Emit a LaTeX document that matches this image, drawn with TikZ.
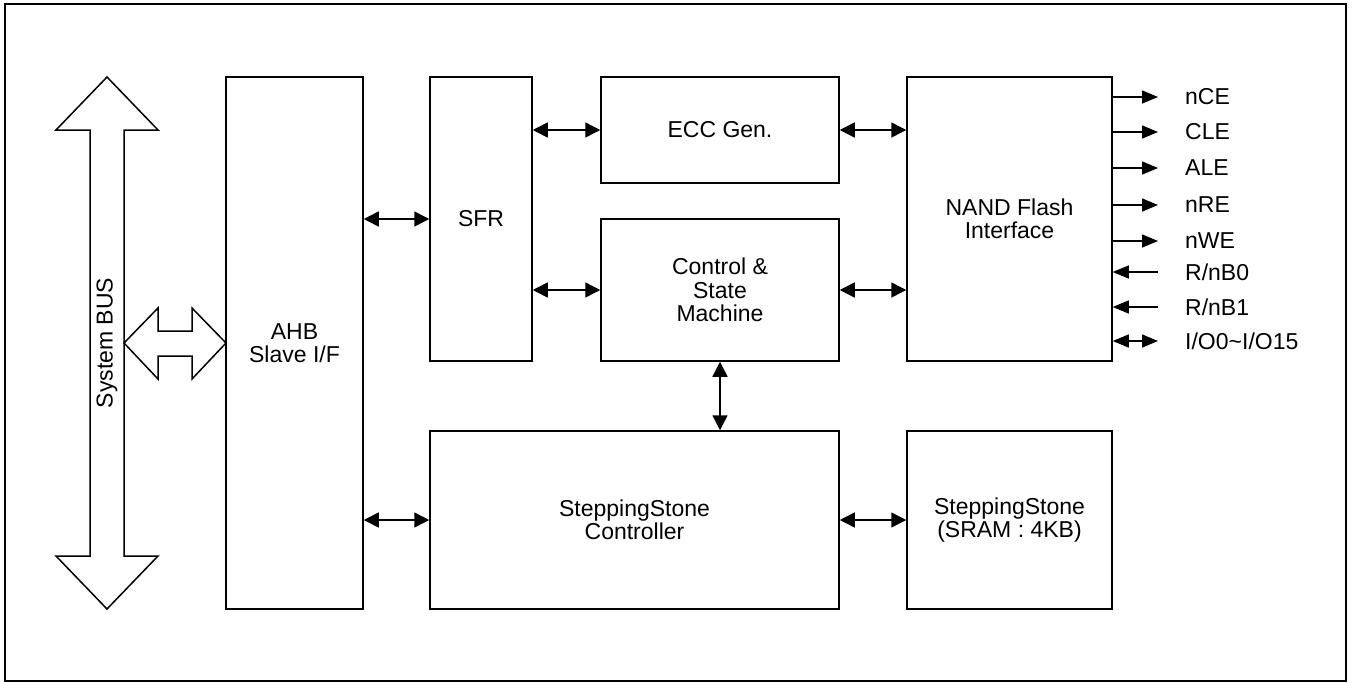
\documentclass[tikz,border=0pt]{standalone}
\usepackage{fontspec}
\setmainfont{Liberation Sans}
\usetikzlibrary{arrows.meta}
\begin{document}
\begin{tikzpicture}[x=1pt,y=-1pt,
  txt/.style={font=\fontsize{23}{23.5}\selectfont},
  box/.style={draw, line width=1.5pt, align=center, inner sep=0pt, txt},
  lbl/.style={anchor=west, inner sep=0pt, txt},
  tip/.tip={Triangle[length=15pt,width=15pt]},
  stip/.tip={Triangle[length=16pt,width=13pt]},
  dar/.style={tip-tip, line width=1.5pt},
  sigout/.style={-stip, line width=1.5pt},
  sigin/.style={stip-, line width=1.5pt},
  sigbi/.style={stip-stip, line width=1.5pt},
  bus/.style={draw, line width=1.5pt, fill=white, line join=miter}
]
\useasboundingbox (0,0) rectangle (1353,683);
\draw[line width=2.5pt] (5,4) rectangle (1346,681);

% System bus (vertical double arrow)
\draw[bus] (107,77) -- (158,130) -- (124,130) -- (124,556) -- (158,556) -- (107,609)
  -- (56,556) -- (90,556) -- (90,130) -- (56,130) -- cycle;
% horizontal double arrow to AHB
\draw[bus] (124,343) -- (158,308) -- (158,331) -- (192,331) -- (192,308) -- (226,343)
  -- (192,379) -- (192,356) -- (158,356) -- (158,379) -- cycle;
\node[txt, rotate=90, inner sep=0pt] (busl) at (107,343) {System BUS};

% blocks
\node[box, minimum width=137pt, minimum height=532pt] (ahb) at (294.5,343) {AHB\\Slave I/F};
\node[box, minimum width=102pt, minimum height=284pt] (sfr) at (481,219) {SFR};
\node[box, minimum width=238pt, minimum height=106pt] (ecc) at (720,130) {ECC Gen.};
\node[box, minimum width=238pt, minimum height=142pt] (ctrl) at (720,290) {Control \&\\State\\Machine};
\node[box, minimum width=205pt, minimum height=284pt] (nand) at (1009.5,219) {NAND Flash\\Interface};
\node[box, minimum width=409pt, minimum height=178pt] (ssc) at (634.5,520) {SteppingStone\\Controller};
\node[box, minimum width=205pt, minimum height=178pt] (sram) at (1009.5,520) {SteppingStone\\(SRAM : 4KB)};

% connectors
\draw[dar] (ahb.east |- sfr.west) -- (sfr.west);
\draw[dar] (sfr.east |- ecc.west) -- (ecc.west);
\draw[dar] (sfr.east |- ctrl.west) -- (ctrl.west);
\draw[dar] (ecc.east) -- (nand.west |- ecc.east);
\draw[dar] (ctrl.east) -- (nand.west |- ctrl.east);
\draw[dar] (ctrl.south) -- (ctrl.south |- ssc.north);
\draw[dar] (ahb.east |- ssc.west) -- (ssc.west);
\draw[dar] (ssc.east) -- (sram.west);

% NAND signals
\foreach \n/\t/\y/\s in {a/nCE/97/out, b/CLE/132/out, c/ALE/168/out, d/nRE/205/out,
  e/nWE/241/out, f/R\slash nB0/272/in, g/R\slash nB1/307/in, h/I\slash O0\textasciitilde I\slash O15/341/bi}{
  \coordinate (e\n) at (1158,\y);
  \node[lbl] (l\n) at (1185,\y) {\t};
  \draw[sig\s] (nand.east |- e\n) -- (e\n);
}
\end{tikzpicture}
\end{document}
